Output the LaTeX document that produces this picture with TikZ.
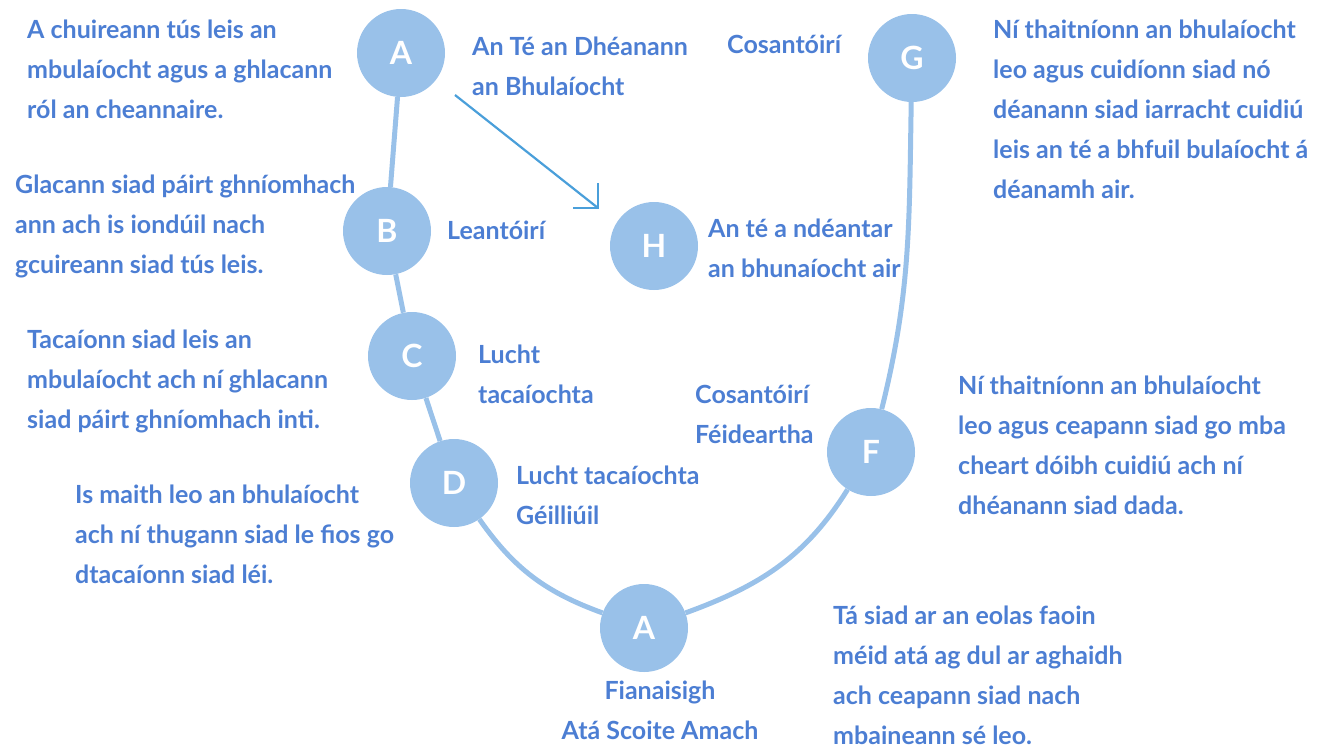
\documentclass[tikz,border=0pt]{standalone}
\usepackage{fontspec}
\setmainfont{Lato}
\definecolor{txtblue}{HTML}{4C7ED3}
\definecolor{circblue}{HTML}{99C1E9}
\definecolor{arrblue}{HTML}{4A9FDA}
\newcommand{\fst}{\rule{0pt}{26pt}}
\begin{document}
\begin{tikzpicture}[x=1pt,y=1pt,
  circ/.style={circle,fill=circblue,minimum size=88pt,inner sep=0pt,text=white,font=\fontsize{32}{32}\selectfont\bfseries},
  lbl/.style={anchor=north west,inner sep=0pt,align=left,text=txtblue,font=\fontsize{25}{40}\selectfont\bfseries},
  link/.style={draw=circblue,line width=5pt}]
\useasboundingbox (0,0) rectangle (1321,-747);
\node[circ] (A1) at (401,-53) {A};
\node[circ] (B) at (387,-231) {B};
\node[circ] (C) at (412,-356) {C};
\node[circ] (D) at (454,-483) {D};
\node[circ] (A2) at (644,-628) {A};
\node[circ] (F) at (871,-452) {F};
\node[circ] (G) at (912,-58) {G};
\node[circ] (H) at (654,-246) {H};
\draw[link] (A1) -- (B);
\draw[link] (B) -- (C);
\draw[link] (C) -- (D);
\draw[link] (D) to[out=-55,in=160] (A2);
\draw[link] (A2) to[out=20,in=-122] (F);
\draw[link] (F) to[out=76,in=-91] (G);
\coordinate (arS) at (455,-95);
\coordinate (arE) at (598,-208);
\coordinate (arU) at (598,-183);
\coordinate (arL) at (573,-208);
\draw[arrblue,line width=2.2pt] (arS) -- (arE);
\draw[arrblue,line width=2.2pt] (arU) -- (arE) -- (arL);
\node[lbl] (tA1) at (27,-12) {\fst A chuireann tús leis an\\mbulaíocht agus a ghlacann\\ról an cheannaire.};
\node[lbl] (nA1) at (472,-29) {\fst An Té an Dhéanann\\an Bhulaíocht};
\node[lbl] (nG) at (727,-27) {\fst Cosantóirí};
\node[lbl] (tG) at (993,-12) {\fst Ní thaitníonn an bhulaíocht\\leo agus cuidíonn siad nó\\déanann siad iarracht cuidiú\\leis an té a bhfuil bulaíocht á\\déanamh air.};
\node[lbl] (tB) at (15,-167) {\fst Glacann siad páirt ghníomhach\\ann ach is iondúil nach\\gcuireann siad tús leis.};
\node[lbl] (nB) at (447,-213) {\fst Leantóirí};
\node[lbl] (nH) at (708,-211) {\fst An té a ndéantar\\an bhunaíocht air};
\node[lbl] (tC) at (27,-322) {\fst Tacaíonn siad leis an\\mbulaíocht ach ní ghlacann\\siad páirt ghníomhach inti.};
\node[lbl] (nC) at (478,-337) {\fst Lucht\\tacaíochta};
\node[lbl] (nF) at (695,-377) {\fst Cosantóirí\\Féideartha};
\node[lbl] (tF) at (958,-368) {\fst Ní thaitníonn an bhulaíocht\\leo agus ceapann siad go mba\\cheart dóibh cuidiú ach ní\\dhéanann siad dada.};
\node[lbl] (nD) at (516,-458) {\fst Lucht tacaíochta\\Géilliúil};
\node[lbl] (tD) at (75,-477) {\fst Is maith leo an bhulaíocht\\ach ní thugann siad le fios go\\dtacaíonn siad léi.};
\node[lbl,anchor=north,align=center] (nA2) at (660,-673) {\fst Fianaisigh\\Atá Scoite Amach};
\node[lbl] (tA2) at (833,-598) {\fst Tá siad ar an eolas faoin\\méid atá ag dul ar aghaidh\\ach ceapann siad nach\\mbaineann sé leo.};
\end{tikzpicture}
\end{document}
